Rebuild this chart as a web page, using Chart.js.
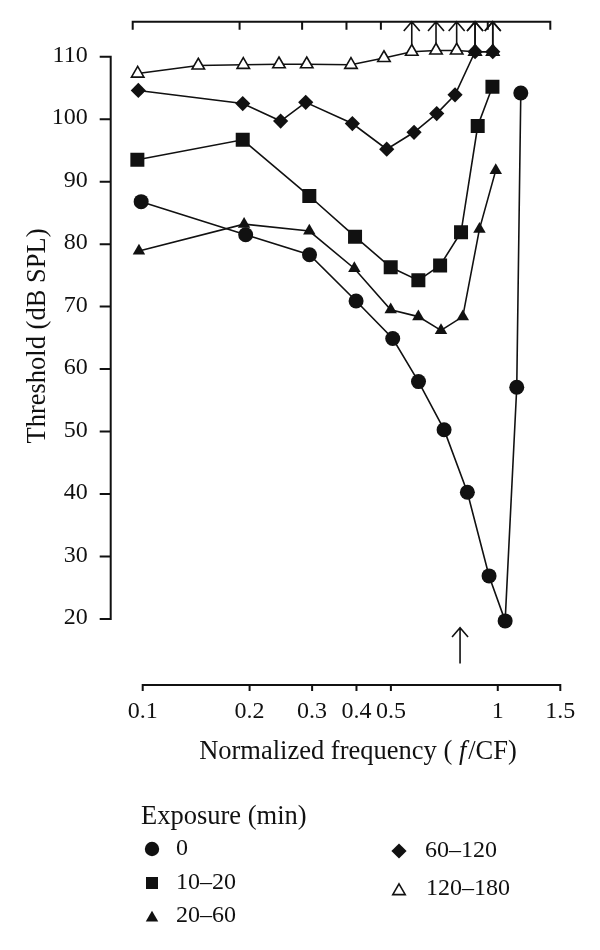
<!DOCTYPE html>
<html><head><meta charset="utf-8">
<script src="https://cdn.jsdelivr.net/npm/chart.js@4.4.1/dist/chart.umd.min.js"></script>
<style>html,body{margin:0;padding:0;background:#fff}canvas{display:block}</style>
</head><body>
<canvas id="c" width="600" height="950"></canvas>
<script>
// ---- data ----
const xTicks = [0.1, 0.2, 0.3, 0.4, 0.5, 1, 1.5];
const xTickLabels = ['0.1', '0.2', '0.3', '0.4', '0.5', '1', '1.5'];
const yTicks = [20, 30, 40, 50, 60, 70, 80, 90, 100, 110];
const exposureLabels = ['0', '10–20', '20–60', '60–120', '120–180'];

const freq0   = [0.099, 0.195, 0.295, 0.399, 0.506, 0.598, 0.706, 0.821, 0.945, 1.049, 1.131, 1.161];
const thr0    = [86.8, 81.5, 78.3, 70.9, 64.9, 58.0, 50.3, 40.3, 26.9, 19.7, 57.1, 104.2];

const freq10  = [0.0966, 0.1913, 0.2946, 0.3963, 0.4994, 0.5975, 0.688, 0.788, 0.878, 0.966];
const thr10   = [93.5, 96.7, 87.7, 81.2, 76.3, 74.2, 76.6, 81.9, 98.9, 105.2];

const freq20  = [0.0976, 0.193, 0.2946, 0.3945, 0.4994, 0.5975, 0.692, 0.797, 0.888, 0.987];
const thr20   = [78.9, 83.2, 82.1, 76.1, 69.5, 68.4, 66.2, 68.4, 82.4, 91.8];

const freq60  = [0.0972, 0.1913, 0.2446, 0.2878, 0.3895, 0.4867, 0.581, 0.673, 0.758, 0.863, 0.968];
const thr60   = [104.6, 102.5, 99.7, 102.7, 99.3, 95.2, 97.9, 100.9, 103.9, 110.8, 110.8];

const freq120 = [0.0968, 0.1434, 0.192, 0.242, 0.2897, 0.386, 0.478, 0.5725, 0.670, 0.766, 0.863, 0.968];
const thr120  = [107.3, 108.6, 108.7, 108.8, 108.8, 108.7, 109.8, 110.8, 111.0, 111.0, 110.8, 110.8];

// points with no response (drawn with an upward arrow)
const noResponse120 = [7, 8, 9, 10, 11];
const noResponse60 = [9, 10];
const cfArrowFreq = 0.783;

const FONT = '"Liberation Serif", "Times New Roman", serif';
const NUM_PX = 24;
const WORD_PX = 26.5;
const INK = '#111';

function pts(xs, ys) { return xs.map((x, i) => ({ x: x, y: ys[i] })); }

const styles = [
  { pointStyle: 'circle', pointRadius: 7.5, bg: INK, bw: 0 },
  { pointStyle: 'rect', pointRadius: 9.9, bg: INK, bw: 0 },
  { pointStyle: 'triangle', pointRadius: 7.2, bg: INK, bw: 0 },
  { pointStyle: 'rectRot', pointRadius: 7.6, bg: INK, bw: 0 },
  { pointStyle: 'triangle', pointRadius: 7.2, bg: '#fff', bw: 1.6 }
];
const series = [
  pts(freq0, thr0), pts(freq10, thr10), pts(freq20, thr20), pts(freq60, thr60), pts(freq120, thr120)
];

const datasets = series.map((d, i) => ({
  label: exposureLabels[i],
  data: d,
  showLine: true,
  borderColor: INK,
  borderWidth: 1.6,
  pointStyle: styles[i].pointStyle,
  pointRadius: styles[i].pointRadius,
  pointHoverRadius: styles[i].pointRadius,
  pointBackgroundColor: styles[i].bg,
  pointBorderColor: INK,
  pointBorderWidth: styles[i].bw,
  fill: false,
  tension: 0
}));

function marker(ctx, style, r, bg, bw, x, y) {
  ctx.save();
  ctx.beginPath();
  if (style === 'circle') {
    ctx.arc(x, y, r, 0, Math.PI * 2);
  } else if (style === 'rect') {
    const s = Math.SQRT1_2 * r;
    ctx.rect(x - s, y - s, 2 * s, 2 * s);
  } else if (style === 'rectRot') {
    ctx.moveTo(x - r, y); ctx.lineTo(x, y - r); ctx.lineTo(x + r, y); ctx.lineTo(x, y + r);
  } else if (style === 'triangle') {
    let a = 0;
    ctx.moveTo(x + Math.sin(a) * r, y - Math.cos(a) * r);
    a += 2 * Math.PI / 3;
    ctx.lineTo(x + Math.sin(a) * r, y - Math.cos(a) * r);
    a += 2 * Math.PI / 3;
    ctx.lineTo(x + Math.sin(a) * r, y - Math.cos(a) * r);
  }
  ctx.closePath();
  ctx.fillStyle = bg;
  ctx.fill();
  if (bw > 0) { ctx.lineWidth = bw; ctx.strokeStyle = INK; ctx.stroke(); }
  ctx.restore();
}

function upArrow(ctx, x, yTip, yTail, head) {
  ctx.beginPath();
  ctx.moveTo(x, yTail); ctx.lineTo(x, yTip);
  ctx.moveTo(x - head, yTip + head * 1.15); ctx.lineTo(x, yTip); ctx.lineTo(x + head, yTip + head * 1.15);
  ctx.stroke();
}

const decor = {
  id: 'decor',
  beforeDatasetsDraw(chart) {
    const ctx = chart.ctx, xs = chart.scales.x, ys = chart.scales.y, area = chart.chartArea;
    ctx.save();
    ctx.strokeStyle = INK;
    ctx.lineWidth = 2;
    ctx.lineCap = 'butt';
    // left axis (20..110)
    const yTop = ys.getPixelForValue(yTicks[yTicks.length - 1]);
    const yBot = ys.getPixelForValue(yTicks[0]);
    ctx.beginPath();
    ctx.moveTo(area.left, yTop - 1); ctx.lineTo(area.left, yBot + 1);
    yTicks.forEach(v => { const p = ys.getPixelForValue(v); ctx.moveTo(area.left - 11, p); ctx.lineTo(area.left + 1, p); });
    ctx.stroke();
    // bottom axis
    const bx0 = xs.getPixelForValue(xTicks[0]);
    const bx1 = xs.getPixelForValue(xTicks[xTicks.length - 1]);
    ctx.beginPath();
    ctx.moveTo(bx0 - 1, area.bottom); ctx.lineTo(bx1 + 1, area.bottom);
    xTicks.forEach(v => { const p = xs.getPixelForValue(v); ctx.moveTo(p, area.bottom); ctx.lineTo(p, area.bottom + 6); });
    ctx.stroke();
    // top axis (unlabelled, slightly shifted)
    const sh = -10;
    ctx.beginPath();
    ctx.moveTo(bx0 + sh - 1, area.top); ctx.lineTo(bx1 + sh + 1, area.top);
    xTicks.forEach(v => { const p = xs.getPixelForValue(v) + sh; ctx.moveTo(p, area.top); ctx.lineTo(p, area.top + 8); });
    ctx.stroke();

    // arrows for no-response points
    ctx.lineWidth = 1.6;
    noResponse120.forEach(i => {
      const px = xs.getPixelForValue(freq120[i]), py = ys.getPixelForValue(thr120[i]);
      upArrow(ctx, px, area.top, py - 6, 8);
    });
    noResponse60.forEach(i => {
      const px = xs.getPixelForValue(freq60[i]), py = ys.getPixelForValue(thr60[i]);
      upArrow(ctx, px, area.top, py - 6, 8);
    });
    // CF arrow below the curves
    const cx = xs.getPixelForValue(cfArrowFreq);
    upArrow(ctx, cx, ys.getPixelForValue(18.6), ys.getPixelForValue(12.9), 8);
    ctx.restore();
  },
  afterDraw(chart) {
    const ctx = chart.ctx, xs = chart.scales.x, ys = chart.scales.y, area = chart.chartArea;
    ctx.save();
    ctx.fillStyle = INK;
    ctx.font = NUM_PX + 'px ' + FONT;
    // y tick labels
    ctx.textAlign = 'right'; ctx.textBaseline = 'middle';
    yTicks.forEach(v => ctx.fillText(String(v), area.left - 23, ys.getPixelForValue(v) - 1));
    // x tick labels
    ctx.textAlign = 'center';
    xTicks.forEach((v, i) => ctx.fillText(xTickLabels[i], xs.getPixelForValue(v), area.bottom + 27));
    // y title
    ctx.save();
    ctx.font = WORD_PX + 'px ' + FONT;
    ctx.translate(38, 336);
    ctx.rotate(-Math.PI / 2);
    ctx.textAlign = 'center';
    ctx.fillText('Threshold (dB SPL)', 0, 0);
    ctx.restore();
    // x title with italic f
    const parts = [['Normalized frequency ( ', 'normal'], ['f', 'italic'], ['/CF)', 'normal']];
    let total = 0;
    parts.forEach(p => { ctx.font = p[1] + ' ' + WORD_PX + 'px ' + FONT; p.push(ctx.measureText(p[0]).width); total += p[2]; });
    total += 2;
    let tx = 358 - total / 2;
    ctx.textAlign = 'left';
    parts.forEach(p => { ctx.font = p[1] + ' ' + WORD_PX + 'px ' + FONT; ctx.fillText(p[0], tx, 752); tx += p[2] + (p[1] === 'italic' ? 2 : 0); });
    // legend
    ctx.font = WORD_PX + 'px ' + FONT;
    ctx.textAlign = 'left';
    ctx.fillText('Exposure (min)', 141, 817);
    ctx.font = NUM_PX + 'px ' + FONT;
    const slots = [
      [152, 849, 176], [152, 883, 176], [152, 916, 176],
      [399, 851, 425], [399, 889, 426]
    ];
    const legR = [7.2, 8.5, 7.2, 7.6, 7.2];
    chart.data.datasets.forEach((ds, i) => {
      const s = slots[i];
      marker(ctx, ds.pointStyle, legR[i], ds.pointBackgroundColor, ds.pointBorderWidth, s[0], s[1] + (ds.pointStyle === 'triangle' ? 2 : 0));
      ctx.fillStyle = INK;
      ctx.fillText(ds.label, s[2], s[1]);
    });
    ctx.restore();
  }
};

new Chart(document.getElementById('c').getContext('2d'), {
  type: 'scatter',
  data: { datasets: datasets },
  options: {
    responsive: false,
    animation: false,
    devicePixelRatio: 1,
    layout: { padding: { left: 110.7, right: 39.7, top: 21.7, bottom: 265 } },
    scales: {
      x: { type: 'logarithmic', min: 0.08126, max: 1.5, display: false },
      y: { type: 'linear', min: 9.44, max: 115.6, display: false }
    },
    plugins: { legend: { display: false }, tooltip: { enabled: false } }
  },
  plugins: [decor]
});
</script>
</body></html>
